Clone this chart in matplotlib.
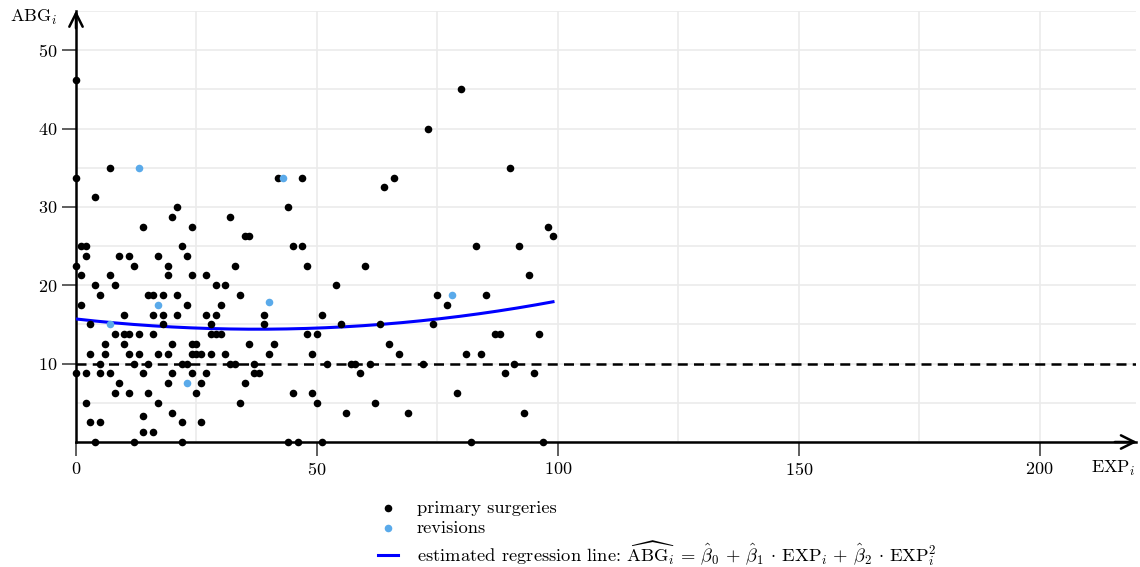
import matplotlib
matplotlib.use("Agg")
import matplotlib.pyplot as plt
import numpy as np

plt.rcParams["font.family"] = "serif"
plt.rcParams["font.serif"] = ["cmr10"]
plt.rcParams["mathtext.fontset"] = "cm"
plt.rcParams["axes.formatter.use_mathtext"] = True
plt.rcParams["font.size"] = 13

# primary surgeries: experience (EXP_i) and air-bone gap (ABG_i), grouped by ABG level
primary_exp = [
    0, 80, 73, 7, 90,
    0, 42, 47, 66, 64, 4, 21, 44, 20, 32,
    14, 24, 98, 35, 36, 99,
    1, 2, 22, 45, 47, 83, 92,
    2, 9, 11, 17, 23,
    0, 12, 19, 33, 48, 60,
    1, 7, 19, 24, 27, 94,
    4, 8, 29, 31, 54,
    5, 15, 16, 18, 21, 34, 75, 85,
    1, 23, 30, 77,
    10, 16, 18, 21, 27, 29, 39, 51,
    3, 18, 28, 39, 55, 63, 74,
    8, 10, 11, 13, 16, 28, 29, 30, 48, 50, 87, 88, 96,
    6, 10, 20, 24, 25, 36, 41, 65,
    3, 6, 11, 13, 17, 19, 24, 25, 26, 28, 31, 40, 49, 67, 81, 84,
    5, 12, 15, 22, 23, 32, 33, 37, 52, 57, 58, 61, 72, 91,
    0, 2, 5, 7, 14, 20, 24, 27, 37, 38, 59, 89, 95,
    9, 19, 26, 35,
    8, 11, 15, 25, 45, 49, 79,
    2, 17, 34, 50, 62,
    20, 56, 69, 93, 14,
    3, 5, 22, 26,
    14, 16,
    4, 12, 22, 44, 46, 51, 82, 97,
]
primary_abg = (
    [46.25, 45, 40, 35, 35]
    + [33.75] * 4 + [32.5, 31.25, 30, 30, 28.75, 28.75]
    + [27.5] * 3 + [26.25] * 3
    + [25] * 7
    + [23.75] * 5
    + [22.5] * 6
    + [21.25] * 6
    + [20] * 5
    + [18.75] * 8
    + [17.5] * 4
    + [16.25] * 8
    + [15] * 7
    + [13.75] * 13
    + [12.5] * 8
    + [11.25] * 16
    + [10] * 14
    + [8.75] * 13
    + [7.5] * 4
    + [6.25] * 7
    + [5] * 5
    + [3.75] * 4 + [3.3]
    + [2.5] * 4
    + [1.25] * 2
    + [0] * 8
)

# revisions
revision_exp = [7, 13, 17, 23, 40, 43, 78]
revision_abg = [15, 35, 17.5, 7.5, 17.9, 33.75, 18.75]

threshold = 10

# regression coefficients (b0 + b1*x + b2*x^2)
b0, b1, b2 = 15.7, -0.0696, 0.000927

fit_x = np.linspace(0, max(primary_exp + revision_exp), 200)
fit_y = b0 + b1 * fit_x + b2 * fit_x ** 2

fig = plt.figure(figsize=(11.4, 5.67), dpi=100)
ax = fig.add_axes([76 / 1140, 1 - 442 / 567, (1136 - 76) / 1140, (442 - 11) / 567])
ax.set_xlim(0, 220)
ax.set_ylim(0, 55)

ax.set_xticks([0, 50, 100, 150, 200])
ax.set_yticks([10, 20, 30, 40, 50])
ax.set_xticks(np.arange(0, 221, 25), minor=True)
ax.set_yticks(np.arange(0, 56, 5), minor=True)
ax.tick_params(which="major", length=10, width=1.1, color="#333333", direction="out")
ax.tick_params(which="minor", length=0)
ax.grid(which="both", color="#ebebeb", lw=1.2, zorder=0)
ax.set_axisbelow(True)

for s in ["top", "right"]:
    ax.spines[s].set_visible(False)
for s in ["left", "bottom"]:
    ax.spines[s].set_linewidth(1.8)
    ax.spines[s].set_zorder(3)

# arrow heads
ax.annotate("", xy=(1.001, 0), xycoords="axes fraction", xytext=(0.98, 0),
            arrowprops=dict(arrowstyle="->", lw=1.8, color="k", mutation_scale=24,
                            shrinkA=0, shrinkB=0))
ax.annotate("", xy=(0, 1.001), xycoords="axes fraction", xytext=(0, 0.96),
            arrowprops=dict(arrowstyle="->", lw=1.8, color="k", mutation_scale=24,
                            shrinkA=0, shrinkB=0))

ax.axhline(threshold, color="k", lw=1.8, ls=(0, (4, 2.5)), zorder=2)
reg_label = (r"estimated regression line: $\widehat{\mathrm{ABG}}_i \,=\, \hat{\beta}_0 \,+\, "
             r"\hat{\beta}_1 \,\cdot\, \mathrm{EXP}_i \,+\, \hat{\beta}_2 \,\cdot\, \mathrm{EXP}_i^2$")
line, = ax.plot(fit_x, fit_y, color="#0000ff", lw=2.2, zorder=4, label=reg_label)
p = ax.scatter(primary_exp, primary_abg, s=30, color="k", zorder=5, clip_on=False,
               linewidths=0, label="primary surgeries")
r = ax.scatter(revision_exp, revision_abg, s=30, color="#5aaaea", zorder=5, clip_on=False,
               linewidths=0, label="revisions")

fig.text(57 / 1140, 1 - 17 / 567, r"$\mathrm{ABG}_i$", ha="right", va="center", fontsize=13)
ax.text(220, -3.4, r"$\mathrm{EXP}_i$", ha="right", va="center", fontsize=13)

fig.legend(handles=[p, r, line], loc="upper left", bbox_to_anchor=(378 / 1140, 1 - 500 / 567),
           frameon=False, handlelength=1.1, handletextpad=1.0, labelspacing=0.2,
           borderaxespad=0, borderpad=0, fontsize=13.3)

fig.savefig("out.png", dpi=100)
